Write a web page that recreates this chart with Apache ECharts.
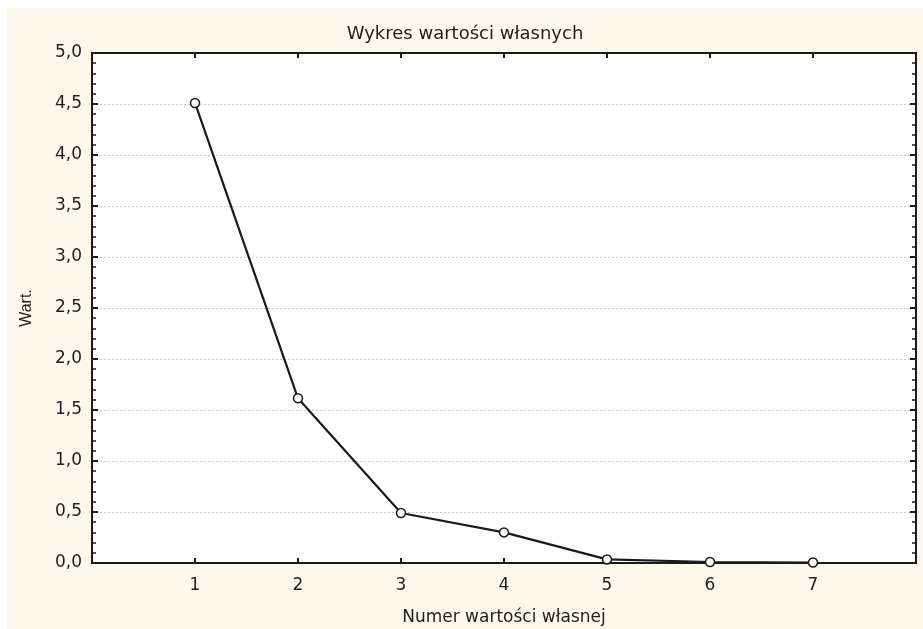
<!DOCTYPE html>
<html>
<head>
<meta charset="utf-8">
<script src="https://cdn.jsdelivr.net/npm/echarts@6/dist/echarts.min.js"></script>
<style>
  html, body { margin: 0; padding: 0; background: #ffffff; }
  #chart { position: absolute; left: 7px; top: 8px; width: 916px; height: 621px; background: #fdf8ec; }
</style>
</head>
<body>
<div id="chart"></div>
<script>
// numer wartości własnej i wartość
const eigenNumbers = [1, 2, 3, 4, 5, 6, 7]
const eigenValues = [4.51, 1.615, 0.49, 0.30, 0.035, 0.01, 0.005]
const yTicks = [0, 0.5, 1, 1.5, 2, 2.5, 3, 3.5, 4, 4.5, 5]

const fmtComma = v => v.toFixed(1).replace('.', ',')

let chart = echarts.init(document.getElementById('chart'))
let lineColor = '#1a1a1a'
let textColor = '#1e1e1e'
let option = {
  animation: false,
  textStyle: { fontFamily: 'DejaVu Sans, sans-serif' },
  title: {
    text: 'Wykres wartości własnych',
    left: 'center',
    top: 12,
    textStyle: { fontSize: 18, fontWeight: 'normal', color: textColor, fontFamily: 'DejaVu Sans' }
  },
  grid: {
    left: 85, top: 45, width: 824, height: 510,
    outerBoundsMode: 'none',
    show: true, backgroundColor: '#ffffff', borderColor: lineColor, borderWidth: 0
  },
  xAxis: [
    {
      type: 'value',
      min: 0,
      max: 8,
      interval: 1,
      name: 'Numer wartości własnej',
      nameLocation: 'middle',
      nameGap: 46,
      nameTextStyle: { fontSize: 17, color: textColor },
      axisLine: { onZero: false, lineStyle: { color: lineColor, width: 2 } },
      axisTick: { inside: true, length: 5, lineStyle: { color: lineColor, width: 2 } },
      axisLabel: {
        fontSize: 17, color: textColor, margin: 14,
        formatter: v => (eigenNumbers.indexOf(v) >= 0 ? String(v) : '')
      },
      splitLine: { show: false }
    },
    {
      type: 'value',
      position: 'top',
      min: 0,
      max: 8,
      interval: 1,
      axisLine: { show: true, onZero: false, lineStyle: { color: lineColor, width: 2 } },
      axisTick: { inside: true, length: 5, lineStyle: { color: lineColor, width: 2 } },
      axisLabel: { show: false },
      splitLine: { show: false }
    }
  ],
  yAxis: [
    {
      type: 'value',
      min: 0,
      max: 5,
      interval: 0.5,
      name: 'Wart.',
      nameLocation: 'middle',
      nameGap: 57,
      nameRotate: 90,
      nameTextStyle: { fontSize: 16, color: textColor, fontFamily: 'Liberation Sans' },
      axisLine: { show: true, onZero: false, lineStyle: { color: lineColor, width: 2 } },
      axisTick: { show: true, inside: true, length: 6, lineStyle: { color: lineColor, width: 2 } },
      minorTick: { show: true, splitNumber: 5, length: 4, lineStyle: { color: lineColor, width: 1.5 } },
      axisLabel: {
        fontSize: 17, color: textColor, margin: 10,
        formatter: v => (yTicks.indexOf(v) >= 0 ? fmtComma(v) : '')
      },
      splitLine: { show: true, lineStyle: { color: '#c4c4c4', type: [2, 2], width: 1 } }
    },
    {
      type: 'value',
      position: 'right',
      min: 0,
      max: 5,
      interval: 0.5,
      axisLine: { show: true, onZero: false, lineStyle: { color: lineColor, width: 2 } },
      axisTick: { show: true, inside: true, length: 6, lineStyle: { color: lineColor, width: 2 } },
      minorTick: { show: true, splitNumber: 5, length: 4, lineStyle: { color: lineColor, width: 1.5 } },
      axisLabel: { show: false },
      splitLine: { show: false }
    }
  ],
  series: [
    {
      type: 'line',
      data: eigenNumbers.map((n, i) => [n, eigenValues[i]]),
      symbol: 'circle',
      symbolSize: 9,
      lineStyle: { color: lineColor, width: 2.2 },
      itemStyle: { color: '#ffffff', borderColor: lineColor, borderWidth: 1.5 }
    }
  ]
}

// wyświetlenie wykresu
chart.setOption(option)
</script>
</body>
</html>
